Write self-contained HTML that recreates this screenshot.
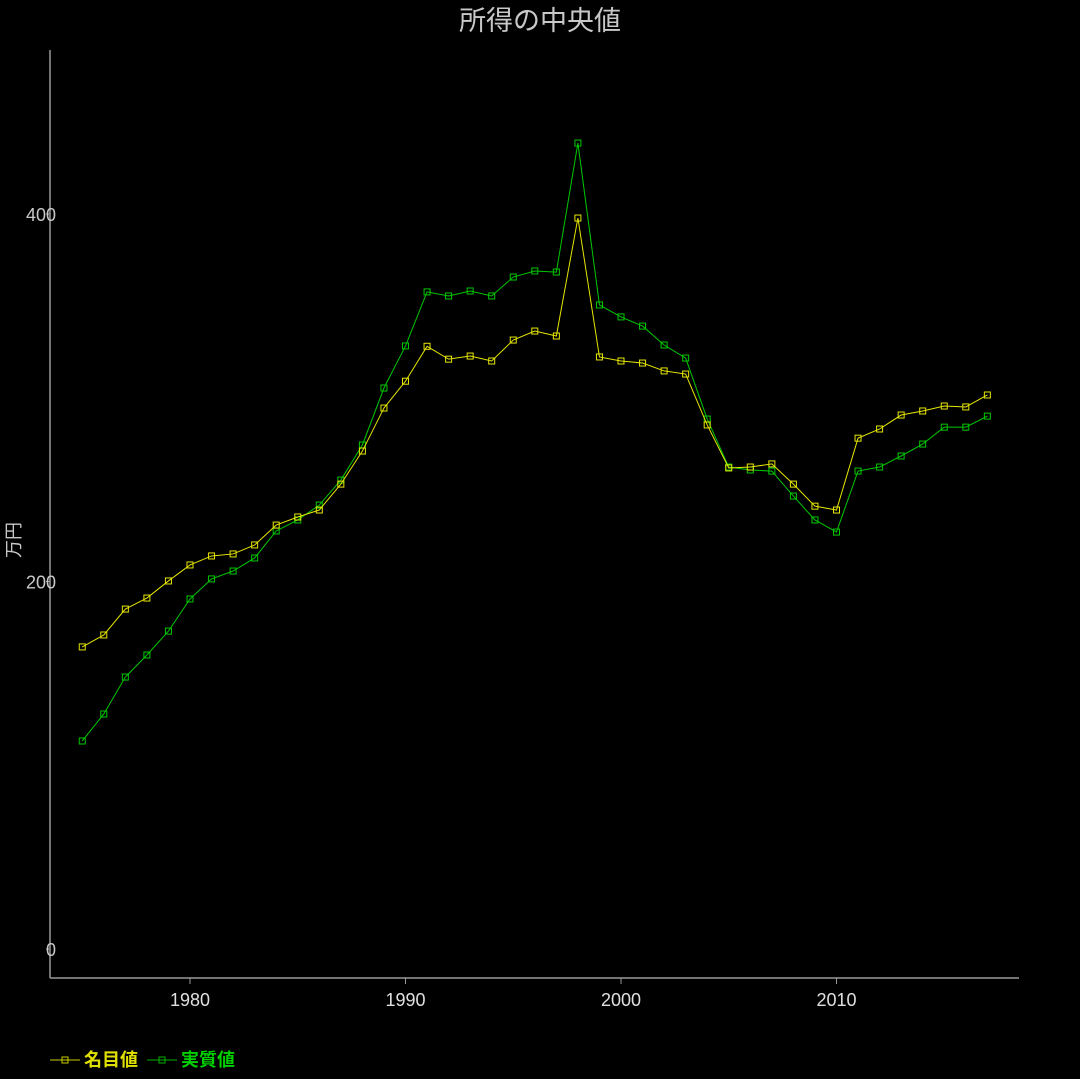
<!DOCTYPE html>
<html><head><meta charset="utf-8"><style>
body{margin:0;background:#000;}
svg{display:block;font-family:"Liberation Sans","Noto Sans CJK JP",sans-serif;}
</style></head><body>
<svg id="chart" width="1080" height="1079">
<rect width="1080" height="1079" fill="#000"/>
<text x="540" y="30" text-anchor="middle" font-size="27" fill="#c8c8c8">所得の中央値</text>
<text transform="translate(20,540) rotate(-90)" text-anchor="middle" font-size="18" fill="#c8c8c8">万円</text>
<line x1="50" y1="50" x2="50" y2="978" stroke="#999" stroke-width="1.5"/>
<line x1="50" y1="978" x2="1019" y2="978" stroke="#999" stroke-width="1.5"/>
<g id="axes"></g><g id="series"></g>
<g>
<g>
<line x1="50" y1="1060" x2="80" y2="1060" stroke="#cccc00" stroke-width="1"/>
<rect x="62" y="1057" width="6" height="6" fill="none" stroke="#cccc00"/>
<text x="84" y="1066" font-size="18" font-weight="bold" fill="#e0e000">名目値</text></g>
<g>
<line x1="147" y1="1060" x2="177" y2="1060" stroke="#00b000" stroke-width="1"/>
<rect x="159" y="1057" width="6" height="6" fill="none" stroke="#00b000"/>
<text x="181" y="1066" font-size="18" font-weight="bold" fill="#00d000">実質値</text></g>
</g>
</svg>
<script>
const years=[1975,1976,1977,1978,1979,1980,1981,1982,1983,1984,1985,1986,1987,1988,1989,1990,1991,1992,1993,1994,1995,1996,1997,1998,1999,2000,2001,2002,2003,2004,2005,2006,2007,2008,2009,2010,2011,2012,2013,2014,2015,2016,2017];
const nominal=[164.4,170.9,185,191,200.3,209,213.9,215,219.9,230.7,235.1,238.9,253,271,294.4,309,328,321,322.7,320,331.4,336.3,333.6,397.8,322.2,320,318.9,314.6,312.9,285.2,261.8,262.3,264,253,241,238.9,278,283,290.6,292.8,295.5,295,301.5];
const real=[113.2,127.9,148,160,173,190.5,201.4,205.7,212.8,227.5,233.5,241.6,255.2,274.3,305.3,328.2,357.6,355.4,358.1,355.4,365.7,369,368.4,438.6,350.5,344,339,328.7,321.6,288.4,262.3,260.7,260.1,246.5,233.5,226.9,260.1,262.3,268.3,274.8,284,284,290];
const yTicks=[0,200,400];
const xTicks=[1980,1990,2000,2010];
const NS='http://www.w3.org/2000/svg';
const xs=y=>190+(y-1980)*21.55;
const ys=v=>949-v*1.8375;
const axes=document.getElementById('axes');
function mk(tag,attrs,parent){const e=document.createElementNS(NS,tag);for(const k in attrs)e.setAttribute(k,attrs[k]);parent.appendChild(e);return e;}
yTicks.forEach(t=>{
  const l=mk('line',{x1:46,x2:50,y1:ys(t),y2:ys(t),stroke:'#999'},axes);
  
  
  const tx=mk('text',{x:56,y:ys(t)+7,'text-anchor':'end','font-size':18,fill:'#c8c8c8'},axes);
  tx.textContent=t;
  
  
});
xTicks.forEach(t=>{
  const l=mk('line',{x1:xs(t),x2:xs(t),y1:978,y2:984,stroke:'#999'},axes);
  
  
  const tx=mk('text',{x:xs(t),y:1006,'text-anchor':'middle','font-size':18,fill:'#e0e0e0'},axes);
  tx.textContent=t;
  
  
});
const sg=document.getElementById('series');
function draw(vals,color,name){
  const g=mk('g',{},sg);
  
  
  const p=mk('polyline',{points:vals.map((v,i)=>xs(years[i])+','+ys(v)).join(' '),fill:'none',stroke:color,'stroke-width':1},g);
  
  
  vals.forEach((v,i)=>{
    const r=mk('rect',{x:xs(years[i])-3,y:ys(v)-3,width:6,height:6,fill:'none',stroke:color,'stroke-width':1},g);
    
    
  });
}
draw(real,'#00c800','real');
draw(nominal,'#e6e600','nominal');
</script>
</body></html>
